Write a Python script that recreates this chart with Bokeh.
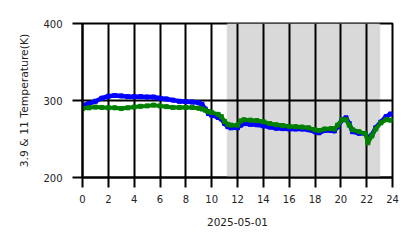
from bokeh.plotting import figure
from bokeh.models import Range1d, FixedTicker, BoxAnnotation, ColumnDataSource
from bokeh.embed import file_html
from bokeh.resources import INLINE

# ---- data ----
hours = [0.0, 0.5, 1.0, 1.5, 2.0, 2.5, 3.0, 3.5, 4.0, 4.5, 5.0, 5.5, 6.0, 6.5,
         7.0, 7.5, 8.0, 8.5, 9.0, 9.25, 9.5, 9.75, 10.0, 10.5, 10.75, 11.0,
         11.25, 11.5, 12.0, 12.25, 12.5, 13.0, 13.5, 14.0, 14.5, 15.0, 15.5,
         16.0, 16.5, 17.0, 17.5, 18.0, 18.3, 18.75, 19.25, 19.5, 19.75, 20.1,
         20.4, 20.65, 20.9, 21.4, 21.9, 22.1, 22.4, 22.7, 23.1, 23.5, 23.85]
temp_39 = [294, 296, 299, 303, 305.5, 306.5, 306, 305, 305, 305, 304.5, 304.5,
           303, 302, 300.5, 299, 298.5, 298, 297, 295, 289, 283, 281, 278, 276,
           270, 266, 264.5, 264.5, 268, 270, 269, 268.5, 267, 265.5, 264, 263.5,
           263, 263, 263, 262, 259.5, 258, 261, 261, 260.5, 266, 275, 277.5,
           270, 259.5, 257.5, 257, 251.5, 255, 264.5, 272, 279, 282.5]
temp_11 = [289.5, 290.5, 291.5, 291, 290.5, 290.5, 289.5, 290.5, 291.5, 292.5,
           293, 294, 293, 292, 291, 291, 291, 291, 290, 289, 287.5, 285.5,
           284.5, 282, 279, 273, 269, 268, 268, 273.5, 275, 274.5, 274, 272.5,
           270, 268.5, 267.5, 266.5, 266, 265.5, 264.5, 262, 261, 263, 263.5,
           263, 268, 275, 275, 268, 262, 259.5, 257, 245, 254, 263, 271, 275,
           274.5]
shade_span = [11.22, 23.0]
x_ticks = list(range(0, 25, 2))
y_ticks = [200, 300, 400]
x_label = "2025-05-01"
y_label = "3.9 & 11 Temperature(K)"

FONT = "DejaVu Sans"

p = figure(width=418, height=248, output_backend="svg", toolbar_location=None,
           x_range=Range1d(0, 24), y_range=Range1d(200, 400),
           min_border_left=82, min_border_right=26, min_border_top=23,
           min_border_bottom=71)

p.background_fill_color = "white"
p.border_fill_color = "white"
p.outline_line_color = "black"
p.outline_line_width = 2

band = BoxAnnotation(left=shade_span[0], right=shade_span[1],
                     fill_color="#d9d9d9", fill_alpha=1.0,
                     line_color="#c8c8c8", line_width=2, level="image")
p.add_layout(band)

src = ColumnDataSource(dict(h=hours, b=temp_39, g=temp_11))
p.line("h", "b", source=src, line_color="#0000ff", line_width=4.5)
p.scatter("h", "b", source=src, marker="square", size=4, color="#0000ff")
p.line("h", "g", source=src, line_color="#008000", line_width=4)
p.scatter("h", "g", source=src, marker="square", size=4, color="#008000")

p.xaxis.ticker = FixedTicker(ticks=x_ticks)
p.yaxis.ticker = FixedTicker(ticks=y_ticks)
p.xaxis.axis_label = x_label
p.yaxis.axis_label = y_label

for ax in (p.xaxis, p.yaxis):
    ax.axis_line_color = "black"
    ax.axis_line_width = 2
    ax.major_tick_line_color = "black"
    ax.major_tick_line_width = 2
    ax.major_tick_out = 10
    ax.major_tick_in = 0
    ax.minor_tick_line_color = None
    ax.major_label_text_font = FONT
    ax.major_label_text_font_size = "10px"
    ax.major_label_text_color = "#222222"
    ax.axis_label_text_font = FONT
    ax.axis_label_text_font_size = "10.8px"
    ax.axis_label_text_font_style = "normal"
    ax.axis_label_text_color = "#222222"

p.xaxis.axis_label_text_font_size = "10.5px"
p.xaxis.major_label_standoff = 7
p.xaxis.axis_label_standoff = 12
p.yaxis.major_label_standoff = 10
p.yaxis.axis_label_standoff = 9

p.grid.grid_line_color = "black"
p.grid.grid_line_width = 2
p.grid.grid_line_alpha = 1.0

open("out.html", "w").write(file_html(p, INLINE))
